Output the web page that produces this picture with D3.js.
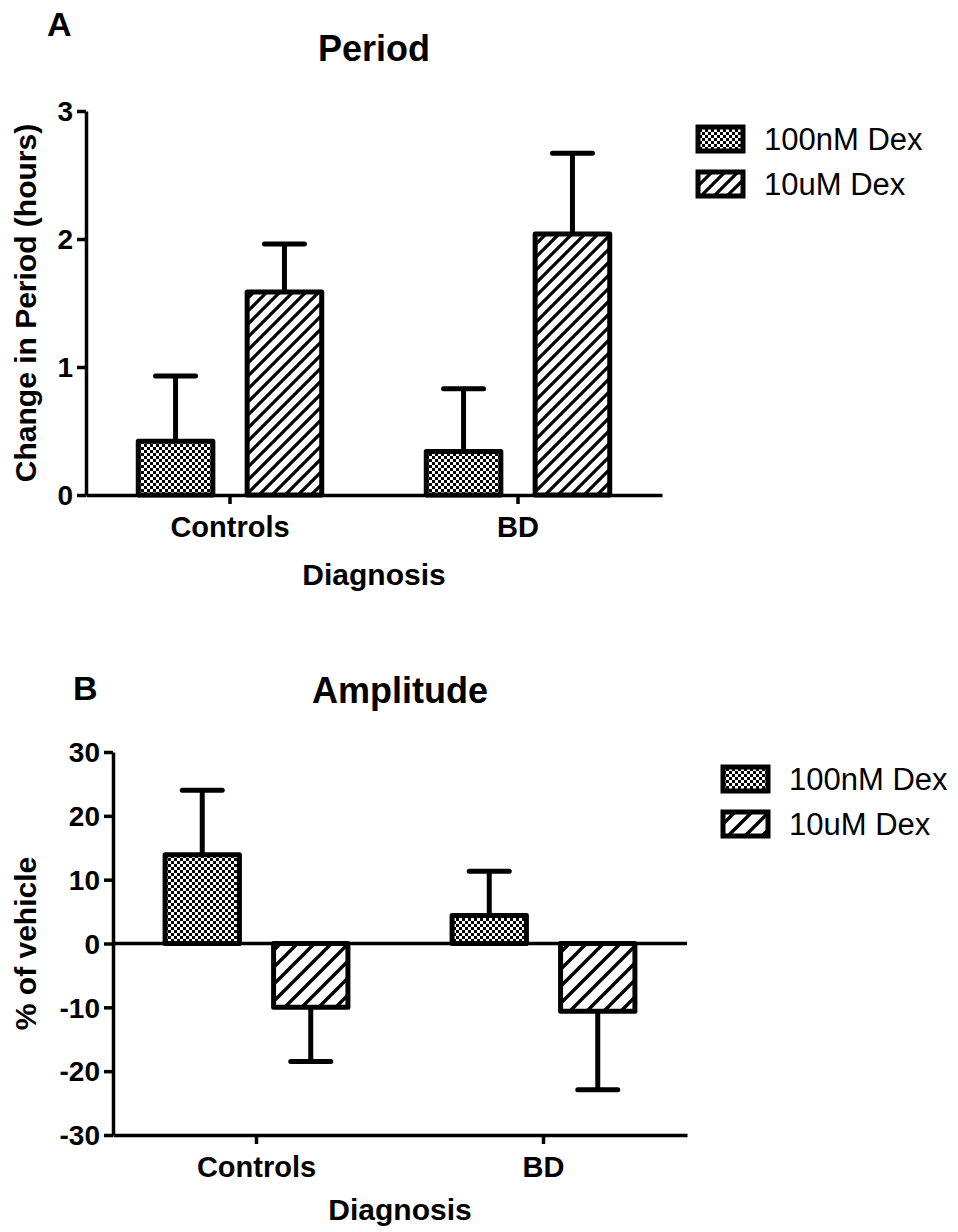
<!DOCTYPE html>
<html>
<head>
<meta charset="utf-8">
<script src="https://cdn.jsdelivr.net/npm/d3@7"></script>
<style>
  html, body { margin: 0; padding: 0; background: #fff; }
  svg { display: block; }
  text { font-family: "Liberation Sans", Arial, sans-serif; fill: #000; }
</style>
</head>
<body>
<svg id="fig" width="958" height="1232"></svg>
<script>
// Diagnosis groups and treatment series
const categories = ["Controls", "BD"];
const series = ["100nM Dex", "10uM Dex"];

// Panel A: change in period (hours), mean and SEM
const periodMean100nM = [0.42, 0.34];
const periodSem100nM  = [0.51, 0.49];
const periodMean10uM  = [1.585, 2.04];
const periodSem10uM   = [0.375, 0.63];
const periodTicks = [0, 1, 2, 3];

// Panel B: amplitude (% of vehicle), mean and SEM
const ampMean100nM = [13.9, 4.4];
const ampSem100nM  = [10.1, 6.9];
const ampMean10uM  = [-10.0, -10.6];
const ampSem10uM   = [8.5, 12.3];
const ampTicks = [-30, -20, -10, 0, 10, 20, 30];

const svg = d3.select("#fig");
const defs = svg.append("defs");

// checkerboard fill
function checker(id) {
  const p = defs.append("pattern").attr("id", id)
    .attr("patternUnits", "userSpaceOnUse").attr("width", 6).attr("height", 6);
  p.append("rect").attr("width", 6).attr("height", 6).attr("fill", "#fff");
  p.append("rect").attr("width", 3).attr("height", 3).attr("fill", "#000");
  p.append("rect").attr("x", 3).attr("y", 3).attr("width", 3).attr("height", 3).attr("fill", "#000");
}
// forward-slash hatching
function hatch(id, s, w) {
  const p = defs.append("pattern").attr("id", id)
    .attr("patternUnits", "userSpaceOnUse").attr("width", s).attr("height", s);
  p.append("rect").attr("width", s).attr("height", s).attr("fill", "#fff");
  const d = `M0,${s} L${s},0 M${-s/2},${s/2} L${s/2},${-s/2} M${s/2},${s*1.5} L${s*1.5},${s/2}`;
  p.append("path").attr("d", d).attr("stroke", "#000").attr("stroke-width", w);
}
checker("chk");
hatch("hatchA", 13, 3.2);
hatch("hatchB", 17, 3.4);

// plain integer labels with an ASCII hyphen for negatives
const intLabel = d => String(d);

function drawPanel(cfg) {
  const g = svg.append("g");
  const x = d3.scaleBand().domain(categories).range([cfg.x0, cfg.x1]).padding(0);
  const xs = d3.scaleBand().domain(series).range([0, x.bandwidth()])
    .paddingInner(0.315).paddingOuter(0.48);
  const y = d3.scaleLinear().domain(cfg.domain).range([cfg.yBottom, cfg.yTop]);

  const rows = [];
  categories.forEach((c, i) => {
    rows.push({ cat: c, ser: series[0], mean: cfg.mean[0][i], sem: cfg.sem[0][i], fill: "url(#chk)" });
    rows.push({ cat: c, ser: series[1], mean: cfg.mean[1][i], sem: cfg.sem[1][i], fill: `url(#${cfg.hatchId})` });
  });

  // error bars (one-sided, away from baseline)
  const capHalf = 20;
  rows.forEach(r => {
    const cx = x(r.cat) + xs(r.ser) + xs.bandwidth() / 2;
    const tip = r.mean >= 0 ? r.mean + r.sem : r.mean - r.sem;
    g.append("line").attr("x1", cx).attr("x2", cx).attr("y1", y(r.mean)).attr("y2", y(tip))
      .attr("stroke", "#000").attr("stroke-width", 5);
    g.append("line").attr("x1", cx - capHalf).attr("x2", cx + capHalf).attr("y1", y(tip)).attr("y2", y(tip))
      .attr("stroke", "#000").attr("stroke-width", 5).attr("stroke-linecap", "round");
  });

  // bars
  g.selectAll("rect.bar").data(rows).join("rect").attr("class", "bar")
    .attr("x", d => x(d.cat) + xs(d.ser))
    .attr("width", xs.bandwidth())
    .attr("y", d => y(Math.max(0, d.mean)))
    .attr("height", d => Math.abs(y(d.mean) - y(0)))
    .attr("fill", d => d.fill)
    .attr("stroke", "#000").attr("stroke-width", 5).attr("stroke-linejoin", "round");

  // zero line
  if (cfg.domain[0] < 0) {
    g.append("line").attr("x1", cfg.x0).attr("x2", cfg.x1).attr("y1", y(0)).attr("y2", y(0))
      .attr("stroke", "#000").attr("stroke-width", 3.5);
  }

  // y axis
  const ya = g.append("g").attr("transform", `translate(${cfg.x0},0)`)
    .call(d3.axisLeft(y).tickValues(cfg.ticks).tickFormat(intLabel).tickSize(9).tickSizeOuter(0).tickPadding(4));
  ya.select(".domain").attr("stroke-width", 3.5);
  ya.selectAll(".tick line").attr("stroke-width", 3.5);
  ya.selectAll(".tick text").attr("font-size", 28).attr("font-weight", "bold").attr("dy", "0.35em");

  // x axis
  const xa = g.append("g").attr("transform", `translate(0,${cfg.yBottom})`)
    .call(d3.axisBottom(x).tickSize(9).tickSizeOuter(0).tickPadding(12));
  xa.select(".domain").attr("stroke-width", 3.5);
  xa.selectAll(".tick line").attr("stroke-width", 3.5);
  xa.selectAll(".tick text").attr("font-size", 29).attr("font-weight", "bold").attr("dy", "0.71em");

  // titles
  const mid = (cfg.x0 + cfg.x1) / 2;
  g.append("text").attr("x", mid).attr("y", cfg.titleY).attr("text-anchor", "middle")
    .attr("font-size", 36).attr("font-weight", "bold").text(cfg.title);
  g.append("text").attr("x", cfg.letterX).attr("y", cfg.letterY)
    .attr("font-size", 34).attr("font-weight", "bold").text(cfg.letter);
  g.append("text").attr("x", mid).attr("y", cfg.xTitleY).attr("text-anchor", "middle")
    .attr("font-size", 30).attr("font-weight", "bold").text("Diagnosis");
  g.append("text")
    .attr("transform", `translate(36,${(cfg.yTop + cfg.yBottom) / 2}) rotate(-90)`)
    .attr("text-anchor", "middle").attr("font-size", 30).attr("font-weight", "bold").text(cfg.yTitle);

  // legend
  const fills = ["url(#chk)", `url(#${cfg.hatchId})`];
  series.forEach((s, i) => {
    const cy = cfg.legY + i * 45;
    g.append("rect").attr("x", cfg.legX).attr("y", cy - 12).attr("width", 45).attr("height", 24)
      .attr("fill", fills[i]).attr("stroke", "#000").attr("stroke-width", 5);
    g.append("text").attr("x", cfg.legX + 66).attr("y", cy + 11)
      .attr("font-size", 31).text(s);
  });
}

drawPanel({
  x0: 86, x1: 662, yTop: 111, yBottom: 495, domain: [0, 3], ticks: periodTicks,
  mean: [periodMean100nM, periodMean10uM], sem: [periodSem100nM, periodSem10uM],
  hatchId: "hatchA", title: "Period", titleY: 61, letter: "A", letterX: 47, letterY: 36,
  xTitleY: 585, yTitle: "Change in Period (hours)", legX: 698, legY: 139
});

drawPanel({
  x0: 113, x1: 687, yTop: 752, yBottom: 1135, domain: [-30, 30], ticks: ampTicks,
  mean: [ampMean100nM, ampMean10uM], sem: [ampSem100nM, ampSem10uM],
  hatchId: "hatchB", title: "Amplitude", titleY: 703, letter: "B", letterX: 73, letterY: 700,
  xTitleY: 1220, yTitle: "% of vehicle", legX: 723, legY: 779
});
</script>
</body>
</html>
